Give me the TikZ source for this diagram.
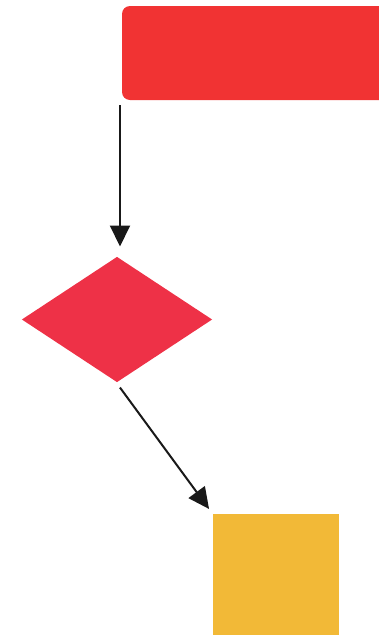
\documentclass[tikz,border=0pt]{standalone}
\usepackage{xcolor}
\usepackage{tikz}
\usetikzlibrary{shapes.geometric,arrows.meta,positioning}

\definecolor{startred}{HTML}{F13333}
\definecolor{decred}{HTML}{EE3147}
\definecolor{endyellow}{HTML}{F2B937}

\begin{document}
\begin{tikzpicture}[x=1pt,y=-1pt,>={Triangle[length=21pt,width=20pt]},
  line width=2pt]

  \clip (0,0) rectangle (379,635);
  \useasboundingbox (0,0) rectangle (379,635);

  % Blocchi
  \node[fill=startred,rounded corners=8pt,minimum width=290pt,minimum height=94pt,
    inner sep=0pt] (S) at (267,53) {};
  \node[diamond,fill=decred,aspect=1.52,minimum width=191pt,minimum height=126pt,
    inner sep=0pt] (D) at (117,319.5) {};
  \node[fill=endyellow,minimum width=126pt,minimum height=140pt,inner sep=0pt,
    anchor=north west] (E) at (212,513) {};
  \coordinate (s1) at (120,105);

  % Frecce
  \path[->,black!90]
    (s1) edge[shorten >=9pt] (s1 |- D.north)
    (D.south) edge[shorten <=5pt,shorten >=5pt] (E.north west);

\end{tikzpicture}
\end{document}
